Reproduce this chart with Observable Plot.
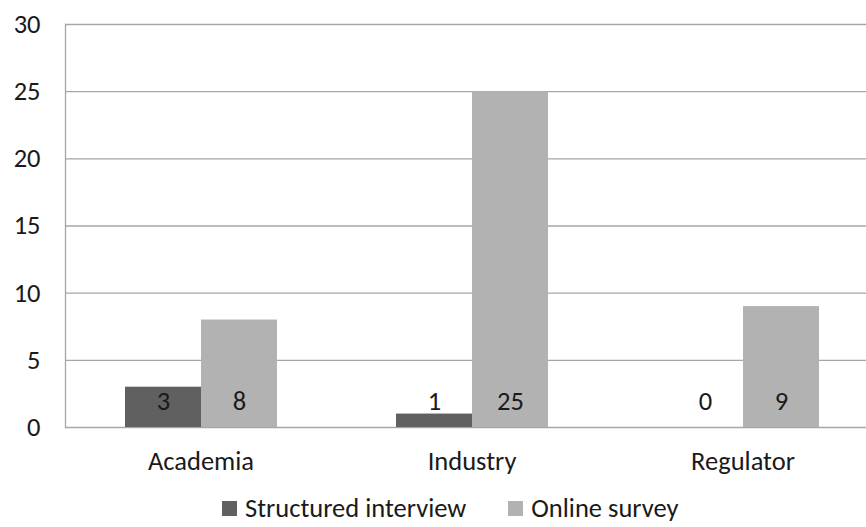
<!DOCTYPE html>
<html><head>
<meta charset="utf-8">
<script src="https://cdn.jsdelivr.net/npm/d3@7"></script>
<script src="https://cdn.jsdelivr.net/npm/@observablehq/plot@0.6"></script>
<style>
body{margin:0;background:#fff;font-family:Carlito,Lato,sans-serif;overflow:hidden;}
#legend{display:flex;align-items:center;padding-left:222px;height:26px;margin-top:15px;font-size:26.5px;line-height:26px;color:#1a1a1a;}
#legend .item{display:flex;align-items:center;margin-right:42px;}
#legend .sw{width:15px;height:15px;margin-right:8px;}
</style>
</head><body>
<div id="chart"></div>
<div id="legend"></div>
<script>
const categories = ["Academia", "Industry", "Regulator"];
const seriesNames = ["Structured interview", "Online survey"];
const structured = [3, 1, 0];
const online = [8, 25, 9];
const yTicks = [0, 5, 10, 15, 20, 25, 30];
const colors = ["#606060", "#b2b2b2"];

const data = categories.flatMap((c, i) => [
  {category: c, series: seriesNames[0], value: structured[i]},
  {category: c, series: seriesNames[1], value: online[i]}
]);

const plot = Plot.plot({
  width: 866, height: 480,
  marginTop: 24, marginBottom: 53, marginLeft: 65, marginRight: -12,
  style: {fontFamily: "Carlito, Lato, sans-serif", fontSize: "26.5px", color: "#1a1a1a", background: "white", overflow: "hidden"},
  fx: {domain: categories, paddingInner: 0, paddingOuter: 0, label: null, axis: "bottom", tickSize: 0, tickPadding: 24},
  x: {domain: seriesNames, paddingInner: 0, paddingOuter: 0.76, axis: null},
  y: {domain: [0, 30], ticks: yTicks, label: null, tickSize: 0, tickPadding: 25},
  color: {domain: seriesNames, range: colors},
  marks: [
    Plot.ruleY(yTicks, {stroke: "#a6a6a6", strokeWidth: 1.3}),
    Plot.frame({anchor: "left", stroke: "#a6a6a6", strokeWidth: 1.3, fx: ["Academia"]}),
    Plot.barY(data, {fx: "category", x: "series", y: "value", fill: "series"}),
    Plot.text(data, {fx: "category", x: "series", y: 0, dy: -26, text: d => String(d.value), fill: "#1a1a1a", fontSize: 26.5})
  ]
});
document.getElementById("chart").appendChild(plot);

const legend = document.getElementById("legend");
seriesNames.forEach((s, i) => {
  const item = document.createElement("div");
  item.className = "item";
  const sw = document.createElement("span");
  sw.className = "sw";
  sw.style.background = colors[i];
  const t = document.createElement("span");
  t.textContent = s;
  item.appendChild(sw); item.appendChild(t);
  legend.appendChild(item);
});
</script>
</body></html>
